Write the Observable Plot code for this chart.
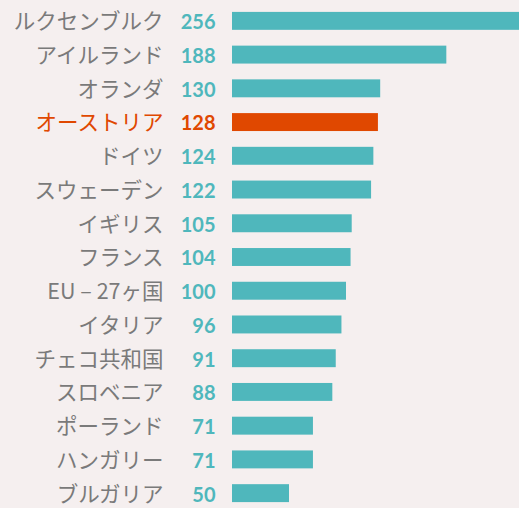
<!DOCTYPE html>
<html>
<head>
<meta charset="utf-8">
<script src="https://cdn.jsdelivr.net/npm/d3@7"></script>
<script src="https://cdn.jsdelivr.net/npm/@observablehq/plot@0.6"></script>
<style>
  html, body { margin: 0; padding: 0; background: #f5efef; overflow: hidden; }
  #chart svg { display: block; background: #f5efef; }
</style>
</head>
<body>
<div id="chart"></div>
<script>
const countries = ["ルクセンブルク","アイルランド","オランダ","オーストリア","ドイツ","スウェーデン","イギリス","フランス","EU – 27ヶ国","イタリア","チェコ共和国","スロベニア","ポーランド","ハンガリー","ブルガリア"];
const values = [256,188,130,128,124,122,105,104,100,96,91,88,71,71,50];
const highlight = "オーストリア";

const teal = "#4fb7bc";
const orange = "#e04800";
const gray = "#7a7a7a";

const data = countries.map((c, i) => ({country: c, value: values[i]}));

const chart = Plot.plot({
  width: 519,
  height: 510,
  marginTop: 4,
  marginBottom: 0,
  marginLeft: 232,
  marginRight: 0,
  style: {background: "#f5efef"},
  x: {domain: [0, 256], range: [232, 232 + 256 * 1.14], axis: null},
  y: {domain: countries, padding: 0, round: false, axis: null},
  color: {type: "identity"},
  marks: [
    Plot.barX(data, {
      x: "value", y: "country",
      insetTop: 7.9, insetBottom: 7.9,
      fill: d => d.country === highlight ? orange : teal
    }),
    Plot.text(data, {
      x: 0, y: "country", text: "country",
      textAnchor: "end", dx: -69, dy: 1,
      fontSize: 21.5,
      fontFamily: "Noto Sans CJK JP",
      fill: d => d.country === highlight ? orange : gray
    }),
    Plot.text(data, {
      x: 0, y: "country", text: d => String(d.value),
      textAnchor: "end", dx: -17, dy: 1.5,
      fontSize: 20, fontWeight: "bold",
      fontFamily: "Lato",
      fill: d => d.country === highlight ? orange : teal
    })
  ]
});
document.getElementById("chart").appendChild(chart);
</script>
</body>
</html>
